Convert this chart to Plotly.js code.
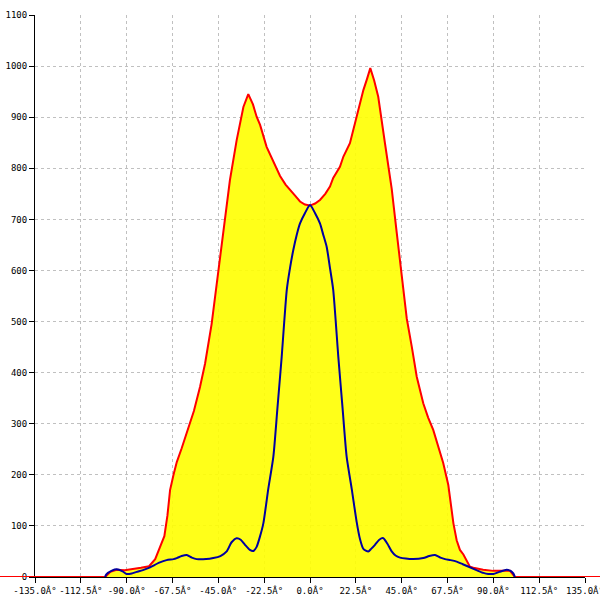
<!DOCTYPE html>
<html>
<head>
<meta charset="utf-8">
<script src="https://cdn.plot.ly/plotly-3.0.1.min.js"></script>
<style>html,body{margin:0;padding:0;background:#fff;}#chart{width:600px;height:600px;}</style>
</head>
<body>
<div id="chart"></div>
<script>
// Tick definitions
const xTickVals = [-135, -112.5, -90, -67.5, -45, -22.5, 0, 22.5, 45, 67.5, 90, 112.5, 135];
const xTickText = ["-135.0Â°", "-112.5Â°", "-90.0Â°", "-67.5Â°", "-45.0Â°", "-22.5Â°", "0.0Â°",
                   "22.5Â°", "45.0Â°", "67.5Â°", "90.0Â°", "112.5Â°", "135.0Â°"];
const yTickVals = [0, 100, 200, 300, 400, 500, 600, 700, 800, 900, 1000, 1100];

// Envelope (red line, yellow fill)
const redX = [-180, -100.6, -98, -95, -91, -87, -83, -79, -76, -73.6, -71.5, -70, -68.7, -67, -65.4, -63, -60.5, -57, -54, -51.5,
  -48.3, -46, -44.2, -41.7, -39.3, -36, -32.7, -30.3, -28, -26.2, -24.5, -21.3, -19.6, -17, -14.7, -12, -9.8, -7, -4.9, -2.5,
  0, 2.5, 4.9, 7.5, 9.8, 11.4, 14.7, 16.4, 19.6, 22.1, 24.5, 26.2, 28, 29.6, 31.5, 33.5, 36.8, 39.3, 40.1, 42.6,
  45, 47.5, 50, 52.4, 55.6, 58, 60.5, 63, 65.4, 67.9, 69.6, 70.4, 72, 73.6, 75.3, 78.5, 80.2, 85, 90, 95, 98.2, 100.6, 180];
const redY = [0, 0, 10, 14, 13, 15, 18, 21, 35, 59, 80, 120, 170, 200, 225, 252, 281, 325, 372, 418,
  495, 565, 627, 705, 777, 855, 920, 945, 925, 901, 885, 842, 828, 805, 785, 768, 757, 745, 735, 729,
  727, 731, 738, 750, 764, 781, 803, 823, 849, 888, 921, 953, 975, 996, 972, 940, 849, 783, 760, 673,
  594, 506, 450, 392, 340, 312, 288, 255, 223, 180, 125, 105, 72, 53, 44, 20, 18, 14, 12, 12, 12, 0, 0];

// Inner curve (blue line)
const blueX = [-100.6, -100, -97, -94.9, -92, -90, -87.5, -85.1, -81, -78.5, -74, -70.4, -67, -65.4, -63, -60.5, -58, -55.6, -51, -47.5,
  -44, -40.9, -38.5, -36, -34, -31.9, -29.5, -27.8, -26.2, -24.5, -22.9, -20.5, -18, -16, -13.9, -11.4, -9.8, -8.2, -6.5, -4.9, -2.5,
  0, 2.5, 4.9, 6.5, 8.2, 9.8, 11.4, 13.9, 16, 18, 20.5, 22.9, 24.5, 26.2, 28.6, 30, 31.9, 34, 36, 38, 40.1,
  42, 44.2, 47, 50.7, 55.6, 58.5, 61.4, 64, 66.3, 69, 72, 75, 78.5, 82, 85.1, 87.5, 90, 93, 96.5, 98.5, 99.8, 100.6];
const blueY = [0, 5, 13, 15, 11, 6, 7, 10, 15, 19, 28, 33, 35, 37, 41, 43, 38, 35, 35, 37,
  41, 50, 68, 76, 73, 63, 53, 51, 59, 80, 105, 172, 235, 330, 431, 562, 605, 640, 670, 692, 712,
  728, 712, 692, 670, 646, 605, 562, 431, 330, 235, 172, 108, 75, 55, 50, 55, 63, 73, 76, 65, 50,
  42, 38, 36, 35, 37, 41, 43, 38, 35, 33, 30, 25, 19, 13, 8, 6, 6, 10, 14, 12, 7, 0];

const tickFont = {family: "DejaVu Sans Mono, monospace", size: 9, color: "#000"};
const pxPerUnit = 550 / 270;

const traces = [
  {x: [], y: [], xaxis: "x", yaxis: "y", type: "scatter", mode: "lines", hoverinfo: "skip"},
  {x: redX, y: redY, xaxis: "x2", yaxis: "y2", type: "scatter", mode: "lines",
   fill: "tozeroy", fillcolor: "rgba(255,255,0,0.9)",
   line: {color: "#ff0000", width: 2},
   cliponaxis: false, hoverinfo: "skip"},
  {x: blueX, y: blueY, xaxis: "x2", yaxis: "y2", type: "scatter", mode: "lines",
   line: {color: "#0000a0", width: 2, shape: "spline", smoothing: 0.6},
   cliponaxis: false, hoverinfo: "skip"}
];

const layout = {
  width: 600, height: 600,
  margin: {l: 0, r: 0, t: 15, b: 23},
  paper_bgcolor: "#ffffff", plot_bgcolor: "rgba(0,0,0,0)",
  showlegend: false,
  xaxis: {domain: [35/600, 585/600], range: [-135, 135], anchor: "y", layer: "below traces",
    tickmode: "array", tickvals: xTickVals, ticktext: xTickText, tickfont: tickFont,
    ticklabeloverflow: "allow",
    showgrid: true, gridcolor: "#c0c0c0", griddash: "3px,3px", gridwidth: 1,
    showline: true, linecolor: "#000", linewidth: 1, ticks: "outside", ticklen: 5, tickcolor: "#000",
    zeroline: false, fixedrange: true},
  yaxis: {domain: [0, 1], range: [0, 1100], anchor: "x", layer: "below traces",
    tickmode: "array", tickvals: yTickVals, tickfont: tickFont,
    ticklabeloverflow: "allow",
    showgrid: true, gridcolor: "#c0c0c0", griddash: "3px,3px", gridwidth: 1,
    showline: true, linecolor: "#000", linewidth: 1, ticks: "outside", ticklen: 5, tickcolor: "#000",
    zeroline: false, fixedrange: true},
  xaxis2: {domain: [0, 1], range: [-135 - 35 / pxPerUnit, 135 + 15 / pxPerUnit], anchor: "y2", visible: false, fixedrange: true},
  yaxis2: {domain: [0, 1], range: [0, 1100], anchor: "x2", visible: false, fixedrange: true}
};

Plotly.newPlot("chart", traces, layout, {staticPlot: true, displayModeBar: false});
</script>
</body>
</html>
